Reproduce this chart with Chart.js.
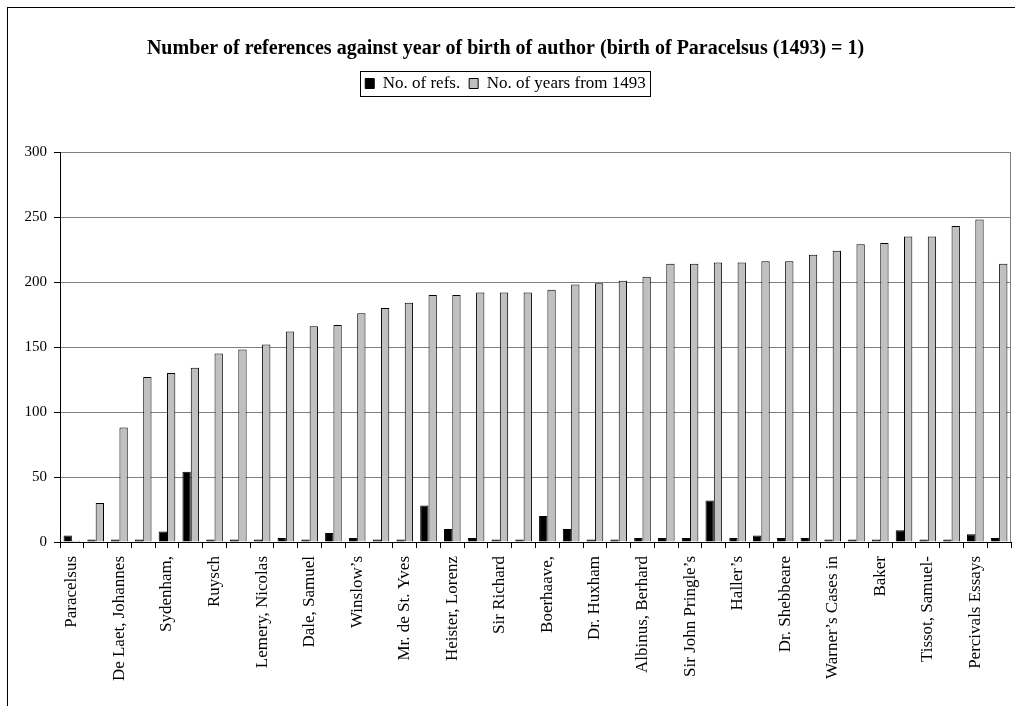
<!DOCTYPE html>
<html>
<head>
<meta charset="utf-8">
<title>Number of references against year of birth of author</title>
<script src="https://cdn.jsdelivr.net/npm/chart.js@4.4.1/dist/chart.umd.min.js"></script>
<style>
  html, body { margin: 0; padding: 0; background: #fff; }
  #chart { display: block; }
</style>
</head>
<body>
<canvas id="chart" width="1015" height="706"></canvas>
<script>
// authors (only every other name is printed on the axis of the original)
const authors = [
    'Paracelsus', '', 'De Laet, Johannes', '', 'Sydenham,', '', 'Ruysch', '',
    'Lemery, Nicolas', '', 'Dale, Samuel', '', 'Winslow\u2019s', '', 'Mr. de St. Yves', '',
    'Heister, Lorenz', '', 'Sir Richard', '', 'Boerhaave,', '', 'Dr. Huxham', '',
    'Albinus, Berhard', '', 'Sir John Pringle\u2019s', '', 'Haller\u2019s', '', 'Dr. Shebbeare', '',
    'Warner\u2019s Cases in', '', 'Baker', '', 'Tissot, Samuel-', '', 'Percivals Essays', ''
];

const refs = [
    5, 2, 2, 2, 8, 54, 2, 2, 2, 3,
    2, 7, 3, 2, 2, 28, 10, 3, 2, 2,
    20, 10, 2, 2, 3, 3, 3, 32, 3, 5,
    3, 3, 2, 2, 2, 9, 2, 2, 6, 3
];

const yearsFrom1493 = [
    1, 30, 88, 127, 130, 134, 145, 148, 152, 162,
    166, 167, 176, 180, 184, 190, 190, 192, 192, 192,
    194, 198, 199, 201, 204, 214, 214, 215, 215, 216,
    216, 221, 224, 229, 230, 235, 235, 243, 248, 214
];

const yTicks = [0, 50, 100, 150, 200, 250, 300];

const serif = '"Liberation Serif", "Times New Roman", serif';

// outer frame, right plot border and the box round the legend
const framePlugin = {
    id: 'frames',
    beforeDraw(chart) {
        const ctx = chart.ctx;
        ctx.save();
        ctx.fillStyle = '#fff';
        ctx.fillRect(0, 0, chart.width, chart.height);
        ctx.strokeStyle = '#000';
        ctx.lineWidth = 1;
        ctx.strokeRect(7.5, 7.5, chart.width + 20, chart.height + 20);
        ctx.restore();
    },
    beforeDatasetsDraw(chart) {
        const a = chart.chartArea;
        const ctx = chart.ctx;
        ctx.save();
        ctx.strokeStyle = '#808080';
        ctx.lineWidth = 1;
        ctx.beginPath();
        ctx.moveTo(Math.round(a.right) - 0.5, a.top);
        ctx.lineTo(Math.round(a.right) - 0.5, a.bottom);
        ctx.stroke();
        ctx.restore();
    },
    afterDraw(chart) {
        const boxes = chart.legend && chart.legend.legendHitBoxes;
        if (!boxes || !boxes.length) return;
        const first = boxes[0];
        const last = boxes[boxes.length - 1];
        const left = Math.round(first.left - 5) + 0.5;
        const right = Math.round(last.left + last.width + 4) + 0.5;
        const top = Math.round(first.top - 4) + 0.5;
        const bottom = Math.round(first.top + first.height + 4) + 0.5;
        const ctx = chart.ctx;
        ctx.save();
        ctx.strokeStyle = '#000';
        ctx.lineWidth = 1;
        ctx.strokeRect(left, top, right - left, bottom - top);
        ctx.restore();
    }
};

new Chart(document.getElementById('chart'), {
    type: 'bar',
    data: {
        labels: authors,
        datasets: [{
            label: 'No. of refs.',
            data: refs,
            backgroundColor: '#000000',
            borderColor: '#000000',
            borderWidth: 1,
            categoryPercentage: 0.7,
            barPercentage: 1.0
        }, {
            label: 'No. of years from 1493',
            data: yearsFrom1493,
            backgroundColor: '#C0C0C0',
            borderColor: '#000000',
            borderWidth: 1,
            categoryPercentage: 0.7,
            barPercentage: 1.0
        }]
    },
    options: {
        responsive: false,
        animation: false,
        layout: { padding: { left: 0, right: 4, top: 0, bottom: 0 } },
        plugins: {
            title: {
                display: true,
                text: 'Number of references against year of birth of author (birth of Paracelsus (1493) = 1)',
                color: '#000',
                font: { family: serif, size: 20, weight: 'bold' },
                padding: { top: 37, bottom: 5 }
            },
            legend: {
                display: true,
                position: 'top',
                labels: {
                    color: '#000',
                    font: { family: serif, size: 17 },
                    boxWidth: 9,
                    boxHeight: 10,
                    padding: 9
                }
            },
            tooltip: { enabled: false }
        },
        scales: {
            x: {
                offset: true,
                grid: {
                    display: true,
                    offset: true,
                    drawOnChartArea: false,
                    drawTicks: true,
                    tickLength: 6,
                    tickColor: '#000'
                },
                border: { display: true, color: '#000', width: 1 },
                ticks: {
                    autoSkip: false,
                    maxRotation: 90,
                    minRotation: 90,
                    padding: 8,
                    color: '#000',
                    font: { family: serif, size: 17 }
                },
                afterFit(scale) {
                    scale.height = 164;
                    scale.paddingLeft = 0;
                    scale.paddingRight = 0;
                }
            },
            xTop: {
                type: 'linear',
                position: 'top',
                display: true,
                grid: { display: false },
                border: { display: false },
                ticks: { display: false },
                afterFit(scale) { scale.height = 50; }
            },
            y: {
                min: 0,
                max: 300,
                afterBuildTicks(scale) {
                    scale.ticks = yTicks.map(v => ({ value: v }));
                },
                grid: {
                    color: '#808080',
                    lineWidth: 1,
                    tickColor: '#000',
                    tickLength: 6
                },
                border: { display: true, color: '#000', width: 1 },
                ticks: {
                    padding: 7,
                    color: '#000',
                    font: { family: serif, size: 15 }
                },
                afterFit(scale) { scale.width = 60; }
            }
        }
    },
    plugins: [framePlugin]
});
</script>
</body>
</html>
